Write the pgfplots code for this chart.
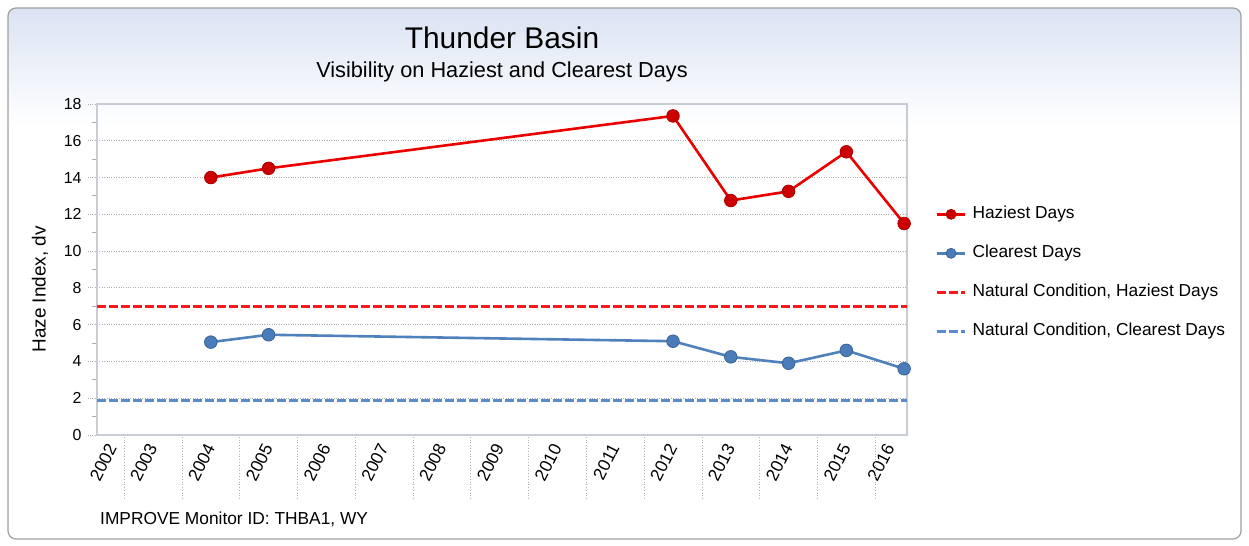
\documentclass[border=0pt]{standalone}
\usepackage{pgfplots}
\pgfplotsset{compat=1.18}
\usepackage{fontspec}
\setmainfont{Liberation Sans}
\definecolor{hazred}{RGB}{235,0,0}
\definecolor{hazmark}{RGB}{204,0,0}
\definecolor{clrblue}{RGB}{79,129,189}
\definecolor{clrmark}{RGB}{74,124,186}
\definecolor{natred}{RGB}{245,25,25}
\definecolor{natblue}{RGB}{90,140,205}
\definecolor{gridgray}{RGB}{175,175,175}
\definecolor{framegray}{RGB}{200,204,212}
\definecolor{topblue}{RGB}{216,225,242}
\begin{document}
\begin{tikzpicture}
\begin{scope}[x=1bp,y=1bp]
\path[use as bounding box] (0,0) rectangle (1249,546);
\begin{scope}
\clip[rounded corners=8bp] (8,7) rectangle (1241,538);
\fill[white] (0,0) rectangle (1249,546);
\shade[top color=topblue, bottom color=white] (0,420) rectangle (1249,546);
\end{scope}
\draw[gray!75, line width=1.2bp, rounded corners=8bp] (8,7) rectangle (1241,538);
\node[font=\fontsize{30}{36}\selectfont] at (502,508) {Thunder Basin};
\node[font=\fontsize{21.8}{26}\selectfont] at (502,474) {Visibility on Haziest and Clearest Days};
\node[anchor=west, font=\fontsize{17.4}{20}\selectfont, inner sep=0pt] at (100,27) {IMPROVE Monitor ID: THBA1, WY};
\end{scope}

\begin{axis}[
  at={(97bp,111bp)}, anchor=south west,
  width=810bp, height=331bp, scale only axis,
  xmin=2002.03, xmax=2016.05, ymin=0, ymax=18,
  clip=false,
  axis line style={framegray, line width=1.3bp},
  ytick={0,2,...,18},
  minor y tick num=1,
  ymajorgrids,
  grid style={gridgray, dotted, line width=0.8bp},
  ytick pos=left, xtick pos=bottom,
  tick align=outside,
  major tick length=9bp, minor tick length=5bp,
  major tick style={gridgray, dotted, line width=0.8bp},
  minor tick style={gridgray, solid, line width=1bp},
  xtick={2002.3,2003,2004,2005,2006,2007,2008,2009,2010,2011,2012,2013,2014,2015,2015.76},
  xticklabels={2002,2003,2004,2005,2006,2007,2008,2009,2010,2011,2012,2013,2014,2015,2016},
  xtick style={draw=none},
  xticklabel style={rotate=63, anchor=east, font=\fontsize{17.5}{20}\selectfont, inner sep=1bp},
  /pgf/number format/assume math mode=true,
  yticklabel style={font=\fontsize{16}{18}\selectfont, xshift=-3bp},
  ylabel={Haze Index, dv},
  ylabel style={font=\fontsize{19}{22}\selectfont, at={(axis description cs:-0.0704,0.44)}, anchor=center},
  legend style={draw=none, fill=none, at={(1.035,0.49)}, anchor=west,
    font=\fontsize{17.4}{20}\selectfont, row sep=17bp, column sep=3bp, inner sep=0pt,
    nodes={text height=12.5bp, text depth=3.5bp, inner sep=3bp}},
  legend cell align=left,
  legend image code/.code={\draw[mark repeat=2,mark phase=2] plot coordinates {(0bp,0bp) (14bp,0bp) (28bp,0bp)};},
  legend image post style={mark size=5bp},
]
\addplot[hazred, line width=2.6bp, mark=*, mark size=6.3bp, mark options={fill=hazmark, draw=hazmark!85!black, line width=0.8bp, solid}]
  coordinates {(2004,14.0)(2005,14.5)(2012,17.35)(2013,12.75)(2014,13.25)(2015,15.4)(2016,11.5)};
\addlegendentry{Haziest Days}
\addplot[clrblue, line width=2.6bp, mark=*, mark size=6.3bp, mark options={fill=clrmark, draw=clrmark!80!black, line width=0.8bp, solid}]
  coordinates {(2004,5.05)(2005,5.45)(2012,5.1)(2013,4.25)(2014,3.9)(2015,4.6)(2016,3.6)};
\addlegendentry{Clearest Days}
\addplot[natred, line width=3bp, dash pattern=on 9bp off 3bp]
  coordinates {(2002.03,7.0)(2016.05,7.0)};
\addlegendentry{Natural Condition, Haziest Days}
\addplot[natblue, line width=3bp, dash pattern=on 9bp off 3bp]
  coordinates {(2002.03,1.9)(2016.05,1.9)};
\addlegendentry{Natural Condition, Clearest Days}
\pgfplotsinvokeforeach{2002.5,2003.5,...,2015.5}{\draw[gridgray, dotted, line width=0.8bp] (axis cs:#1,-0.1) -- (axis cs:#1,-3.5);}
\end{axis}
\end{tikzpicture}
\end{document}
